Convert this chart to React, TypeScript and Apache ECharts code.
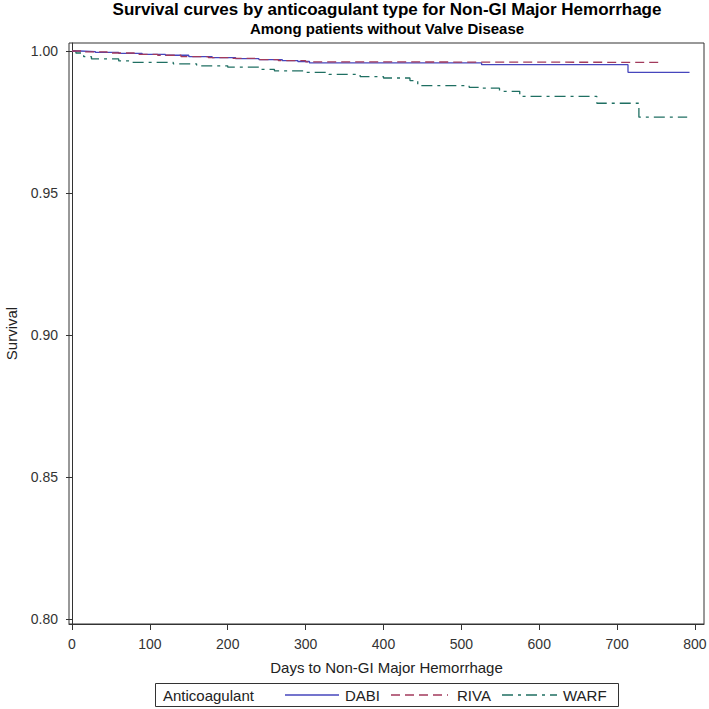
import React, { useEffect, useRef } from "react";
import * as echarts from "echarts";

const dabiDays = [0, 10, 30, 60, 90, 120, 150, 180, 210, 240, 270, 290, 305, 526, 714, 793];
const dabiSurv = [1.0, 0.9998, 0.9995, 0.9992, 0.9988, 0.9985, 0.998, 0.9977, 0.9973, 0.997, 0.9966, 0.9963, 0.9958, 0.9952, 0.9925, 0.9925];

const rivaDays = [0, 15, 45, 80, 110, 140, 175, 200, 235, 265, 300, 310, 757];
const rivaSurv = [1.0, 0.9997, 0.9993, 0.9988, 0.9985, 0.998, 0.9977, 0.9974, 0.997, 0.9966, 0.9962, 0.996, 0.996];

const warfDays = [0, 5, 15, 25, 60, 75, 130, 160, 200, 240, 260, 300, 330, 370, 400, 434, 444, 510, 524, 549, 575, 674, 728, 790];
const warfSurv = [1.0, 0.9993, 0.998, 0.9972, 0.9965, 0.996, 0.9955, 0.9948, 0.9943, 0.9935, 0.993, 0.9925, 0.9918, 0.991, 0.9905, 0.9896, 0.9878, 0.9872, 0.9869, 0.9858, 0.984, 0.9816, 0.9767, 0.9767];

const xTicks = [0, 100, 200, 300, 400, 500, 600, 700, 800];
const yTicks = [0.8, 0.85, 0.9, 0.95, 1.0];

const seriesNames = ["DABI", "RIVA", "WARF"];
const seriesColors = ["#4646bd", "#a23a5c", "#1f6f62"];
const seriesDash: (number[] | null)[] = [null, [9, 5], [11, 5, 3, 5]];

const FONT = "Arial, 'Liberation Sans', sans-serif";

function pairs(xs: number[], ys: number[]) {
  return xs.map((x, i) => [x, ys[i]]);
}

// legend layout (pixel positions)
const legendLineX = [285, 391, 502];
const legendLineW = [54, 57, 55];
const legendTextX = [345, 457, 563];
const legendY = 695;

export default function App() {
  const ref = useRef<HTMLDivElement>(null);
  useEffect(() => {
    if (!ref.current) return;
    const chart = echarts.init(ref.current, undefined, { renderer: "svg" });

    const legendGraphics: any[] = [
      {
        type: "rect",
        shape: { x: 155.5, y: 683.5, width: 463, height: 23 },
        style: { fill: "none", stroke: "#333", lineWidth: 1 },
      },
      {
        type: "text",
        x: 163,
        y: legendY,
        style: {
          text: "Anticoagulant",
          fontFamily: FONT,
          fontSize: 15,
          fill: "#222",
          verticalAlign: "middle",
        },
      },
    ];
    seriesNames.forEach((name, i) => {
      legendGraphics.push({
        type: "line",
        shape: { x1: legendLineX[i], y1: legendY, x2: legendLineX[i] + legendLineW[i], y2: legendY },
        style: {
          stroke: seriesColors[i],
          lineWidth: 1.3,
          lineDash: seriesDash[i] || undefined,
        },
      });
      legendGraphics.push({
        type: "text",
        x: legendTextX[i],
        y: legendY,
        style: {
          text: name,
          fontFamily: FONT,
          fontSize: 15,
          fill: "#222",
          verticalAlign: "middle",
        },
      });
    });

    chart.setOption({
      animation: false,
      backgroundColor: "#ffffff",
      textStyle: { fontFamily: FONT },
      title: [
        {
          text: "Survival curves by anticoagulant type for Non-GI Major Hemorrhage",
          left: 387,
          top: 1,
          padding: 0,
          textAlign: "center",
          textStyle: { fontFamily: FONT, fontSize: 17, fontWeight: "bold", color: "#000" },
        },
        {
          text: "Among patients without Valve Disease",
          left: 387,
          top: 21,
          padding: 0,
          textAlign: "center",
          textStyle: { fontFamily: FONT, fontSize: 15, fontWeight: "bold", color: "#000" },
        },
      ],
      grid: {
        left: 69,
        right: 5,
        top: 43,
        bottom: 85,
        containLabel: false,
        outerBoundsMode: "none",
        show: true,
        borderColor: "#333",
        borderWidth: 1,
        backgroundColor: "transparent",
      },
      graphic: legendGraphics,
      xAxis: {
        type: "value",
        min: -3.85,
        max: 811.6,
        name: "Days to Non-GI Major Hemorrhage",
        nameLocation: "middle",
        nameGap: 36,
        nameMoveOverlap: false,
        nameTextStyle: { fontFamily: FONT, fontSize: 15, color: "#222" },
        axisLine: { show: true, lineStyle: { color: "#333", width: 1 } },
        axisTick: { show: true, length: 6, lineStyle: { color: "#333" }, customValues: xTicks },
        axisLabel: {
          customValues: xTicks,
          fontFamily: FONT,
          fontSize: 14,
          color: "#333",
          margin: 13,
          formatter: (v: number) => String(Math.round(v)),
        },
        splitLine: { show: false },
      },
      yAxis: {
        type: "value",
        min: 0.79824,
        max: 1.00282,
        name: "Survival",
        nameLocation: "middle",
        nameGap: 50,
        nameMoveOverlap: false,
        nameRotate: 90,
        nameTextStyle: { fontFamily: FONT, fontSize: 15, color: "#222" },
        axisLine: { show: true, lineStyle: { color: "#333", width: 1 } },
        axisTick: { show: true, length: 6, lineStyle: { color: "#333" }, customValues: yTicks },
        axisLabel: {
          customValues: yTicks,
          fontFamily: FONT,
          fontSize: 14,
          color: "#333",
          margin: 11,
          formatter: (v: number) => v.toFixed(2),
        },
        splitLine: { show: false },
      },
      series: [
        {
          name: "DABI",
          type: "line",
          step: "end",
          symbol: "none",
          data: pairs(dabiDays, dabiSurv),
          lineStyle: { color: seriesColors[0], width: 1.3, type: "solid" },
          itemStyle: { color: seriesColors[0] },
          z: 3,
        },
        {
          name: "RIVA",
          type: "line",
          step: "end",
          symbol: "none",
          data: pairs(rivaDays, rivaSurv),
          lineStyle: { color: seriesColors[1], width: 1.3, type: seriesDash[1] },
          itemStyle: { color: seriesColors[1] },
          z: 4,
        },
        {
          name: "WARF",
          type: "line",
          step: "end",
          symbol: "none",
          data: pairs(warfDays, warfSurv),
          lineStyle: { color: seriesColors[2], width: 1.3, type: seriesDash[2] },
          itemStyle: { color: seriesColors[2] },
          z: 2,
        },
      ],
    });
    return () => chart.dispose();
  }, []);
  return <div ref={ref} style={{ width: 709, height: 709, position: "absolute", left: 0, top: 0 }} />;
}
